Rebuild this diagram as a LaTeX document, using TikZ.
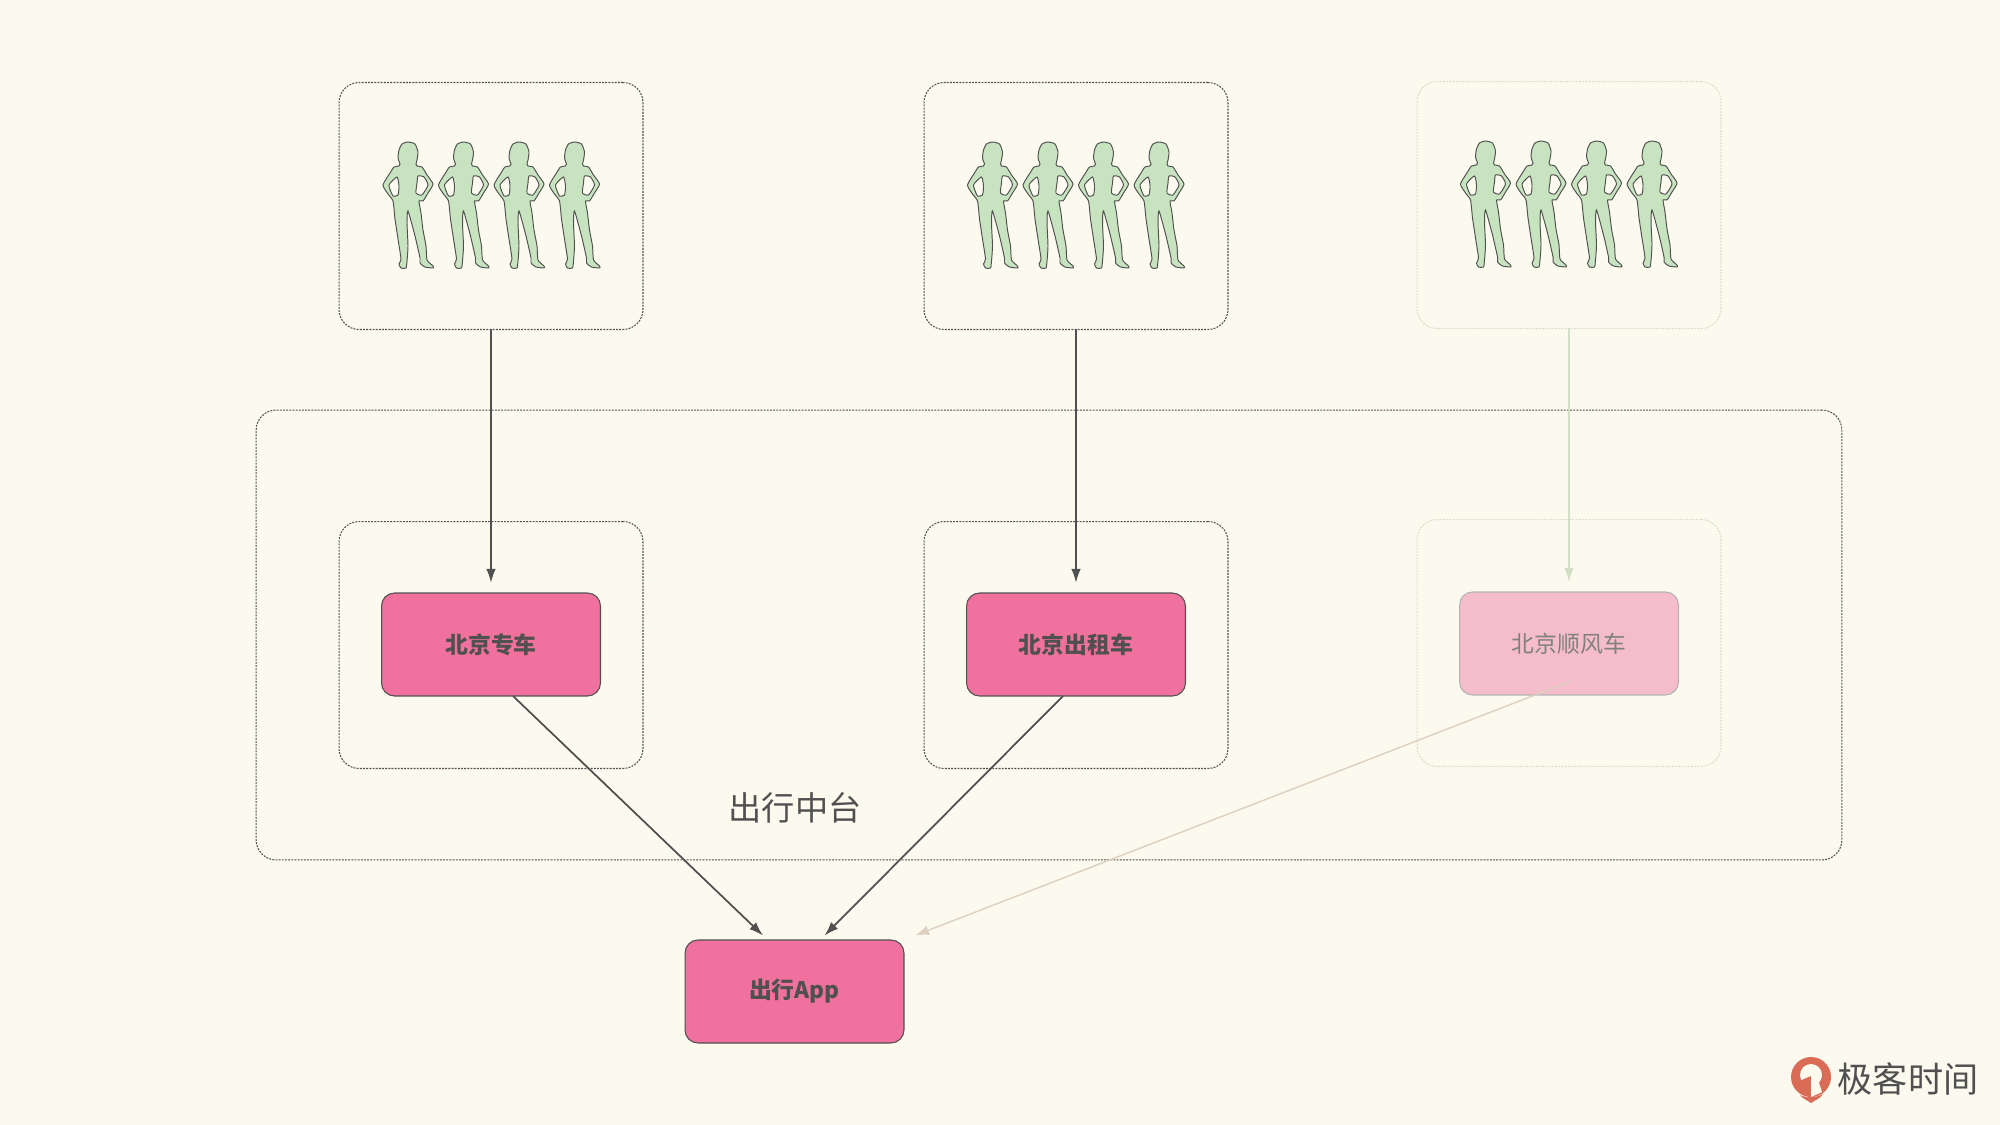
\documentclass[tikz,border=0pt]{standalone}
\usepackage{fontspec}
\usetikzlibrary{arrows.meta}
\newfontfamily\cjk{Noto Sans CJK SC}
\definecolor{bgcol}{HTML}{FCFAEF}
\definecolor{pinkcol}{HTML}{F0719E}
\definecolor{palepink}{HTML}{F5BDCB}
\definecolor{greencol}{HTML}{C7E3BF}
\definecolor{inkcol}{HTML}{505050}
\definecolor{palecol}{HTML}{E0DCCB}
\definecolor{paleline}{HTML}{D3DFC5}
\definecolor{paleroute}{HTML}{DDD0BE}
\definecolor{redcol}{HTML}{D96B57}
\tikzset{
	groupbox/.style={draw=inkcol, line width=0.6pt, dash pattern=on 1.1pt off 0.7pt, rounded corners=0.4cm, inner sep=0, outer sep=0, minimum width=6.08cm, minimum height=4.94cm},
	palebox/.style={groupbox, draw=palecol},
	carbox/.style={draw=inkcol, line width=0.6pt, fill=pinkcol, rounded corners=0.26cm, inner sep=0, outer sep=0, minimum width=4.38cm, minimum height=2.06cm, text=inkcol, font=\cjk\bfseries\fontsize{13}{15}\selectfont},
	palecar/.style={carbox, draw=gray!60, fill=palepink, text=gray, font=\cjk\fontsize{13}{15}\selectfont},
	conn/.style={draw=inkcol, line width=1pt, -{Latex[length=8pt,width=5.5pt]}},
	paleconn/.style={conn, draw=paleline, line width=0.8pt},
	pics/person/.style={code={
		\draw[fill=greencol, draw=inkcol, line width=0.55pt, even odd rule]
			plot[smooth cycle, tension=0.35] coordinates {(0,0) (7,2) (10,10) (9,18) (8,22) (9,24) (14,25) (19,33) (25,42) (20,51) (15,59) (11,59) (13,71) (15,88) (18,104) (19,118) (25,124) (25,126) (17,125) (12,121) (12,116) (7,94) (0,69) (-1,81) (0,104) (-1,119) (-2,126) (-7,126) (-9,122) (-7,117) (-10,97) (-13,77) (-15,59) (-20,52) (-25,43) (-18,31) (-14,25) (-9,24) (-8,22) (-10,16) (-9,8) (-6,2)}
			plot[smooth cycle, tension=0.35] coordinates {(-11,35) (-19,43) (-15,54) (-10,53) (-9,44)}
			plot[smooth cycle, tension=0.35] coordinates {(10,34) (16,35) (20,43) (14,53) (8,51) (9,41)};
	}},
}
\begin{document}
\begin{tikzpicture}[x=0.02cm, y=-0.02cm]
	\useasboundingbox (0,0) rectangle (2000,1125);
	\fill[bgcol] (0,0) rectangle (2000,1125);
	% platform
	\node[groupbox, minimum width=31.72cm, minimum height=9cm] (platform) at (1049,635) {};
	\node[font=\cjk\fontsize{18.9}{22}\selectfont, text=inkcol] (platformlabel) at (795,808) {出行中台};
	% users
	\node[groupbox] (users1) at (491,206) {};
	\node[groupbox] (users2) at (1076,206) {};
	\node[palebox] (users3) at (1569,205) {};
	\foreach \x in {408,463.5,519,574.5} {
		\pic at (\x,142) {person};
		\pic at (\x+584.5,142) {person};
		\pic at (\x+1077.5,141) {person};
	}
	% business lines
	\node[groupbox] (line1) at (491,645) {};
	\node[groupbox] (line2) at (1076,645) {};
	\node[palebox] (line3) at (1569,643) {};
	\node[carbox] (car1) at (491,644.5) {北京专车};
	\node[carbox] (car2) at (1076,644.5) {北京出租车};
	\node[palecar] (car3) at (1569,643.5) {北京顺风车};
	\node[carbox] (app) at (794.5,991.5) {出行App};
	% arrows
	\draw[conn, shorten >=5.8pt] (users1.south) -- (car1.north);
	\draw[conn, shorten >=5.8pt] (users2.south) -- (car2.north);
	\draw[paleconn, shorten >=5.8pt] (users3.south) -- (car3.north);
	\draw[conn] ([xshift=0.44cm]car1.south) -- ([xshift=-0.63cm,yshift=0.09cm]app.north);
	\draw[conn] ([xshift=-0.26cm]car2.south) -- ([xshift=0.6cm,yshift=0.09cm]app.north);
	\draw[paleconn, draw=paleroute] ([xshift=0.04cm,yshift=0.28cm]car3.south) -- ([xshift=2.41cm,yshift=0.09cm]app.north);
	% logo
	\fill[redcol] (1811,1077) circle (20);
	\fill[bgcol] (1811,1075) circle (11);
	\fill[redcol] (1811,1076) -- (1811,1097) -- (1798,1090) -- (1797,1082) -- cycle;
	\fill[redcol] (1800,1095) .. controls (1806,1098) and (1816,1098) .. (1823,1094) .. controls (1820,1099) and (1815,1100) .. (1811,1103) .. controls (1807,1100) and (1803,1099) .. (1800,1095) -- cycle;
	\fill[bgcol] (1811,1076) -- (1818,1080) -- (1822,1092) -- (1811,1097) -- cycle;
	\node[font=\cjk\fontsize{20}{24}\selectfont, text=inkcol, inner sep=0] (brand) at (1908,1079) {极客时间};
\end{tikzpicture}
\end{document}
